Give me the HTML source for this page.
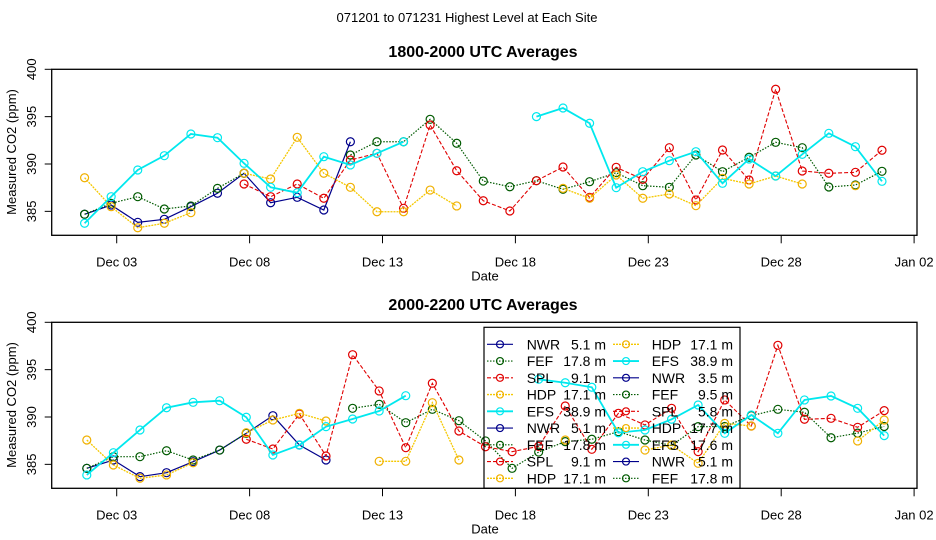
<!DOCTYPE html>
<html><head><meta charset="utf-8"><style>
html,body{margin:0;padding:0;background:#fff;}
svg{display:block;font-family:"Liberation Sans",sans-serif;}
</style></head><body>
<svg id="chart" width="936" height="540" viewBox="0 0 936 540">
<text x="467" y="22" font-size="13" text-anchor="middle">071201  to  071231 Highest Level at Each Site</text>
<g id="g"></g>
</svg>
<script>
const days = [1,2,3,4,5,6,7,8,9,10,11,12,13,14,15,16,17,18,19,20,21,22,23,24,25,26,27,28,29,30,31];
const n = null;
// Top panel 1800-2000 UTC
const topNWR = [384.69,385.67,383.84,384.16,385.49,386.91,389.02,385.91,386.48,385.14,392.35,n,n,n,n,n,n,n,n,n,n,n,n,n,n,n,n,n,n,n,n];
const topFEF = [384.69,385.85,386.55,385.25,385.57,387.43,389.02,n,n,n,390.95,392.35,392.35,394.72,392.19,388.2,387.6,388.24,387.33,388.13,389.08,387.71,387.54,390.95,389.19,390.71,392.29,391.72,387.57,387.78,389.23];
const topSPL = [n,n,n,n,n,n,387.89,386.55,387.89,386.38,390.42,391.13,385.32,394.12,389.29,386.12,385.04,388.24,389.68,386.48,389.65,388.38,391.72,386.2,391.48,388.31,397.89,389.26,389.02,389.12,391.45];
const topHDP = [388.55,385.49,383.27,383.74,384.86,n,389.02,388.42,392.82,389.02,387.54,384.96,384.96,387.25,385.57,n,n,n,387.43,386.38,388.84,386.38,386.83,385.6,388.49,387.89,388.73,387.89,n,387.71,n];
const topEFS = [383.74,386.55,389.37,390.88,393.17,392.78,390.07,387.54,386.97,390.77,389.9,391.13,392.35,n,n,n,n,395.0,395.91,394.3,387.5,389.19,390.35,391.3,387.96,390.53,388.73,391.02,393.24,391.83,388.17];
// Bottom panel 2000-2200 UTC
const botNWR = [384.58,385.46,383.7,384.12,385.28,386.51,388.28,390.14,387.04,385.46,n,n,n,n,n,n,n,n,n,n,n,n,n,n,n,n,n,n,n,n,n];
const botFEF = [384.58,385.81,385.81,386.44,385.46,386.51,388.28,n,n,n,390.92,391.34,389.4,390.81,389.61,387.47,384.58,386.3,387.4,387.65,388.45,387.57,387.0,388.98,389.0,390.14,390.81,390.5,387.81,388.3,389.0];
const botSPL = [n,n,n,n,n,n,387.65,386.62,390.32,385.88,396.58,392.75,386.76,393.56,388.52,386.86,386.34,386.9,391.16,386.59,390.39,389.16,390.92,386.34,391.8,389.05,397.57,389.76,389.86,388.91,390.67];
const botHDP = [387.57,384.93,383.53,383.88,385.17,n,388.34,389.68,390.39,389.58,n,385.32,385.32,391.51,385.46,n,n,n,387.57,n,n,386.51,387.04,385.11,389.33,389.05,n,n,n,387.47,389.68];
const botEFS = [383.88,386.23,388.63,390.98,391.55,391.72,389.97,385.99,387.04,388.98,389.79,390.63,392.25,n,n,n,n,393.98,393.62,393.14,388.34,388.63,389.76,391.27,388.28,390.21,388.28,391.8,392.22,390.92,388.03];
const yTicks = [385,390,395,400];
const xTickDays = [3,8,13,18,23,28,33];
const xTickLabels = ["Dec 03","Dec 08","Dec 13","Dec 18","Dec 23","Dec 28","Jan 02"];
const legendCol1 = [["NWR","5.1 m","NWR"],["FEF","17.8 m","FEF"],["SPL","9.1 m","SPL"],["HDP","17.1 m","HDP"],["EFS","38.9 m","EFS"],["NWR","5.1 m","NWR"],["FEF","17.8 m","FEF"],["SPL","9.1 m","SPL"],["HDP","17.1 m","HDP"]];
const legendCol2 = [["HDP","17.1 m","HDP"],["EFS","38.9 m","EFS"],["NWR","3.5 m","NWR"],["FEF","9.5 m","FEF"],["SPL","5.8 m","SPL"],["HDP","17.7 m","HDP"],["EFS","17.6 m","EFS"],["NWR","5.1 m","NWR"],["FEF","17.8 m","FEF"]];

const styles = {
  NWR:{c:"#00008B",d:"",w:1.2},
  FEF:{c:"#005a00",d:"1.5,1.5",w:1.2},
  SPL:{c:"#e00000",d:"4,2",w:1.1},
  HDP:{c:"#f5c800",d:"2,1",w:1.3},
  EFS:{c:"#00e8ee",d:"",w:1.8}
};
const NS="http://www.w3.org/2000/svg";
const G=document.getElementById('g');
function mk(tag,attrs,parent){const e=document.createElementNS(NS,tag);for(const k in attrs)e.setAttribute(k,attrs[k]);(parent||G).appendChild(e);return e;}
const X0=51.7,X1=917;
function xScale(d){return 116.7+(d-3)*26.58;}
function yScale(v,off){return off+69.3+(400-v)*9.47;}

function panel(off,title,offsetDay,series,pname){
  const pg=mk('g',{});
  
  
  const t=mk('text',{x:483,y:off+57,'font-size':16,'font-weight':'bold','text-anchor':'middle'},pg);
  t.textContent=title;
  
  
  const box=mk('rect',{x:X0,y:off+69.3,width:X1-X0,height:166,fill:'none',stroke:'#000','stroke-width':1.3},pg);
  
  
  yTicks.forEach(v=>{
    const y=yScale(v,off);
    const l=mk('line',{x1:X0-7,x2:X0,y1:y,y2:y,stroke:'#000','stroke-width':1},pg);
    
    
    const tx=mk('text',{x:0,y:0,'font-size':13,'text-anchor':'middle',transform:`translate(36,${y}) rotate(-90)`},pg);
    tx.textContent=v;
    
    
  });
  const yt=mk('text',{x:0,y:0,'font-size':13,'text-anchor':'middle',transform:`translate(16,${off+152}) rotate(-90)`},pg);
  yt.textContent='Measured CO2 (ppm)';
  
  
  const bottom=off+235.3;
  xTickDays.forEach((d,i)=>{
    const x=xScale(d);
    const l=mk('line',{x1:x,x2:x,y1:bottom,y2:bottom+8,stroke:'#000','stroke-width':1},pg);
    
    
    const tx=mk('text',{x:x,y:bottom+31,'font-size':13,'text-anchor':'middle'},pg);
    tx.textContent=xTickLabels[i];
    
    
  });
  const xt=mk('text',{x:485,y:bottom+45,'font-size':13,'text-anchor':'middle'},pg);
  xt.textContent='Date';
  
  
  series.forEach(([site,vals])=>{
    const s=styles[site];
    const sg=mk('g',{},pg);
    
    
    let segs=[],cur=[];
    vals.forEach((v,i)=>{
      if(v===null){if(cur.length)segs.push(cur);cur=[];return;}
      cur.push([xScale(days[i]+offsetDay),yScale(v,off)]);
    });
    if(cur.length)segs.push(cur);
    segs.forEach(sg2=>{
      if(sg2.length>1){
        const p=mk('polyline',{points:sg2.map(p=>p.join(',')).join(' '),fill:'none',stroke:s.c,'stroke-width':s.w,'stroke-dasharray':s.d},sg);
        
        
      }
    });
    vals.forEach((v,i)=>{
      if(v===null)return;
      const c=mk('circle',{cx:xScale(days[i]+offsetDay),cy:yScale(v,off),r:4,fill:'none',stroke:site==='HDP'?'#f0b000':s.c,'stroke-width':1.2},sg);
      
      
    });
  });
}
panel(0,'1800-2000 UTC Averages',19/24,[["NWR",topNWR],["FEF",topFEF],["SPL",topSPL],["HDP",topHDP],["EFS",topEFS]],'top-panel');
panel(253,'2000-2200 UTC Averages',21/24,[["NWR",botNWR],["FEF",botFEF],["SPL",botSPL],["HDP",botHDP],["EFS",botEFS]],'bottom-panel');

const lg=mk('g',{});


const lb=mk('rect',{x:484,y:327.3,width:256,height:161,fill:'none',stroke:'#000','stroke-width':1.2},lg);


function legendCol(entries,lx,tx,vx){
  entries.forEach((e,i)=>{
    const y=344.3+i*16.75;
    const s=styles[e[2]];
    const eg=mk('g',{},lg);
    
    
    mk('line',{x1:lx-13,x2:lx+13,y1:y,y2:y,stroke:s.c,'stroke-width':s.w,'stroke-dasharray':s.d},eg);
    mk('circle',{cx:lx,cy:y,r:3.5,fill:'none',stroke:e[2]==='HDP'?'#f0b000':s.c,'stroke-width':1.2},eg);
    const t1=mk('text',{x:tx,y:y+5,'font-size':14},eg);
    t1.textContent=e[0];
    const t2=mk('text',{x:vx,y:y+5,'font-size':14,'text-anchor':'end'},eg);
    t2.textContent=e[1];
  });
}
legendCol(legendCol1,500,526.7,606);
legendCol(legendCol2,626,651.7,733);
</script>
</body></html>
